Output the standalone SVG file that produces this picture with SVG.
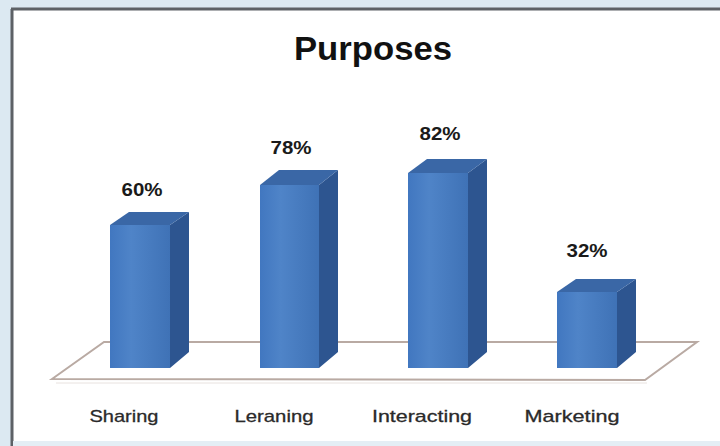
<svg xmlns="http://www.w3.org/2000/svg" width="720" height="446" viewBox="0 0 720 446">
<defs>
<linearGradient id="front" x1="0" y1="0" x2="1" y2="0">
<stop offset="0" stop-color="#4177c0"/>
<stop offset="0.35" stop-color="#4f84c8"/>
<stop offset="1" stop-color="#3f72b6"/>
</linearGradient>
<style>
.front{fill:url(#front);}
.top{fill:#3a67a6;}
.side{fill:#2d5590;}
.val{font-family:"Liberation Sans",Arial,sans-serif;font-weight:bold;font-size:18px;fill:#1a1a1a;text-anchor:middle;}
.cat{font-family:"Liberation Sans",Arial,sans-serif;font-size:17px;fill:#2a2a2a;text-anchor:middle;stroke:#2a2a2a;stroke-width:0.3;}
</style>
</defs>
<rect x="0" y="0" width="720" height="446" fill="#dce9f2"/>
<rect x="13" y="10" width="710" height="431" fill="#ffffff"/>
<line x1="12" y1="9" x2="12" y2="446" stroke="#5d6166" stroke-width="3"/>
<line x1="11" y1="9" x2="720" y2="9" stroke="#5d6166" stroke-width="3"/>
<rect x="13" y="441" width="707" height="5" fill="#e4eef5"/>
<text x="373" y="60" font-family="'Liberation Sans',Arial,sans-serif" font-weight="bold" font-size="34" fill="#111" text-anchor="middle" textLength="158" lengthAdjust="spacingAndGlyphs">Purposes</text>
<g id="floor">
<polygon points="52,379 104,342 697,342 645,380" fill="#ffffff" stroke="#b9aaa3" stroke-width="2"/>
<line x1="56" y1="383" x2="647" y2="383" stroke="#e8e2df" stroke-width="1"/>
</g>
<g id="bar-sharing">
<polygon class="side" points="170,225 189,212 189,352 170,368"/>
<polygon class="top" points="110,225 129,212 189,212 170,225"/>
<rect class="front" x="110" y="225" width="60" height="143"/>
<text class="val" x="142" y="196" textLength="41" lengthAdjust="spacingAndGlyphs">60%</text>
</g>
<g id="bar-leraning">
<polygon class="side" points="319,185 338,170 338,352 319,368"/>
<polygon class="top" points="260,185 279,170 338,170 319,185"/>
<rect class="front" x="260" y="185" width="59" height="183"/>
<text class="val" x="291" y="154" textLength="41" lengthAdjust="spacingAndGlyphs">78%</text>
</g>
<g id="bar-interacting">
<polygon class="side" points="468,173 487,159 487,352 468,368"/>
<polygon class="top" points="408,173 427,159 487,159 468,173"/>
<rect class="front" x="408" y="173" width="60" height="195"/>
<text class="val" x="440" y="140" textLength="41" lengthAdjust="spacingAndGlyphs">82%</text>
</g>
<g id="bar-marketing">
<polygon class="side" points="617,292 636,279 636,352 617,368"/>
<polygon class="top" points="557,292 576,279 636,279 617,292"/>
<rect class="front" x="557" y="292" width="60" height="76"/>
<text class="val" x="587" y="257" textLength="41" lengthAdjust="spacingAndGlyphs">32%</text>
</g>
<g id="labels">
<text class="cat" x="124" y="422" textLength="69" lengthAdjust="spacingAndGlyphs">Sharing</text>
<text class="cat" x="274" y="422" textLength="79" lengthAdjust="spacingAndGlyphs">Leraning</text>
<text class="cat" x="422" y="422" textLength="100" lengthAdjust="spacingAndGlyphs">Interacting</text>
<text class="cat" x="572" y="422" textLength="95" lengthAdjust="spacingAndGlyphs">Marketing</text>
</g>
</svg>
